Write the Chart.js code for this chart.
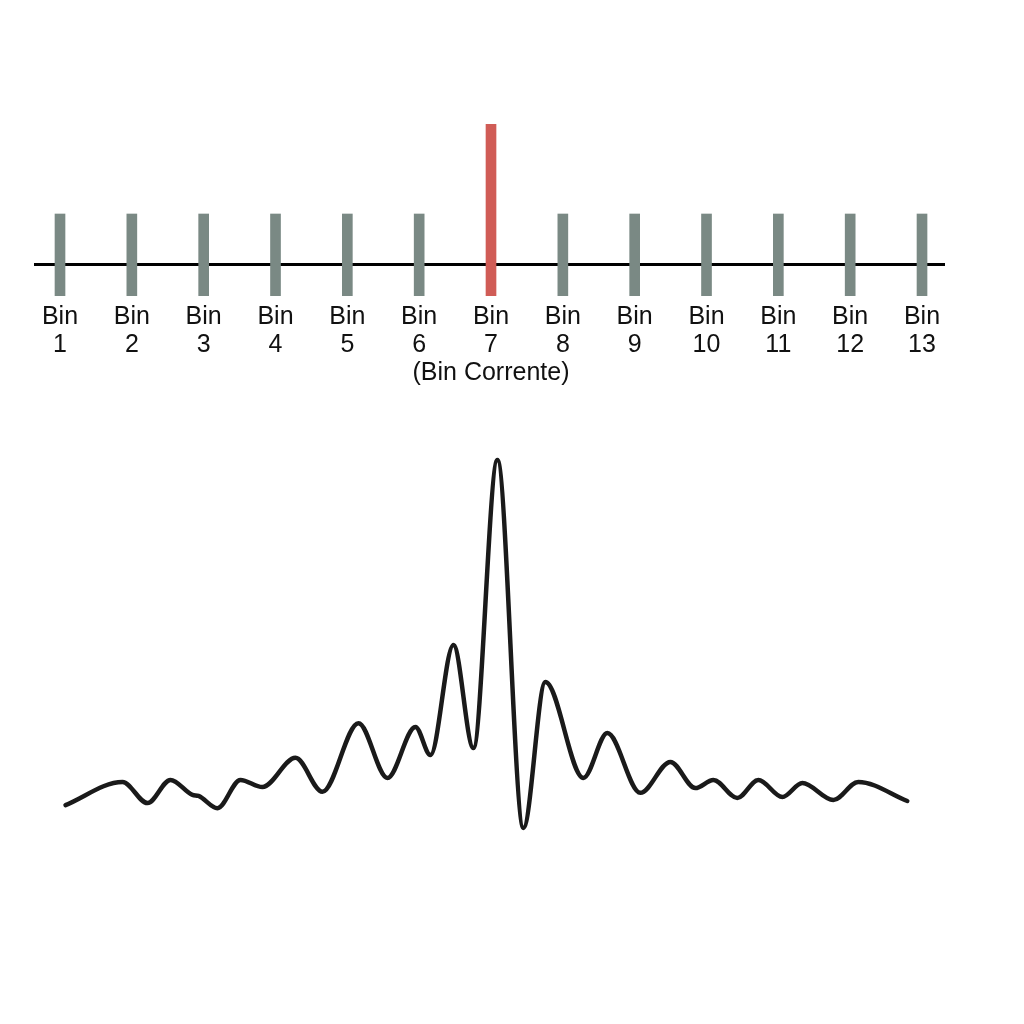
<!DOCTYPE html>
<html>
<head>
<meta charset="utf-8">
<script src="https://cdn.jsdelivr.net/npm/chart.js@4.4.1/dist/chart.umd.min.js"></script>
<style>
  html, body { margin: 0; padding: 0; background: #ffffff; }
  #wrap { position: relative; width: 1024px; height: 1024px; background: #fff; }
  #top { position: absolute; left: 0; top: 0; }
  #bottom { position: absolute; left: 0; top: 400px; }
</style>
</head>
<body>
<div id="wrap">
  <canvas id="top" width="1024" height="400"></canvas>
  <canvas id="bottom" width="1024" height="624"></canvas>
</div>
<script>
// ---- Data ----
const BINS = [1, 2, 3, 4, 5, 6, 7, 8, 9, 10, 11, 12, 13];
const BIN_LABELS = [
  ["Bin", "1"], ["Bin", "2"], ["Bin", "3"], ["Bin", "4"], ["Bin", "5"], ["Bin", "6"],
  ["Bin", "7", "(Bin Corrente)"],
  ["Bin", "8"], ["Bin", "9"], ["Bin", "10"], ["Bin", "11"], ["Bin", "12"], ["Bin", "13"]
];
const CURRENT_BIN = 7;
const BAR_TOP = [50, 50, 50, 50, 50, 50, 140, 50, 50, 50, 50, 50, 50];
const BAR_BOTTOM = [-32, -32, -32, -32, -32, -32, -32, -32, -32, -32, -32, -32, -32];

// Spectrum-like response curve (x in bin units, y relative amplitude)
const CURVE_X = [1.077, 1.870, 2.218, 2.538, 2.844, 2.928, 3.192, 3.512, 3.818, 4.278,
  4.653, 5.155, 5.558, 5.948, 6.157, 6.477, 6.755, 7.089, 7.451, 7.757,
  8.286, 8.620, 9.079, 9.497, 9.845, 10.095, 10.429, 10.722, 11.056, 11.334,
  11.765, 12.113, 12.795];
const CURVE_Y = [-0.015, 0.053, -0.009, 0.059, 0.015, 0.012, -0.024, 0.059, 0.038, 0.124,
  0.024, 0.226, 0.065, 0.215, 0.132, 0.456, 0.153, 1.0, -0.082, 0.347,
  0.065, 0.197, 0.021, 0.112, 0.035, 0.059, 0.006, 0.059, 0.009, 0.050,
  0.000, 0.053, -0.003];

const X_MIN = 0.638, X_MAX = 13.32;
const GREY = '#7a8984';
const RED = '#d05c56';
const FONT = "'Liberation Sans', Arial, sans-serif";

// ---- Top chart: bins ----
new Chart(document.getElementById('top'), {
  type: 'bar',
  data: {
    datasets: [{
      data: BINS.map((b, i) => ({ x: b, y: [BAR_BOTTOM[i], BAR_TOP[i]] })),
      backgroundColor: BINS.map(b => b === CURRENT_BIN ? RED : GREY),
      borderWidth: 0,
      barThickness: 10
    }]
  },
  options: {
    responsive: false,
    animation: false,
    layout: { padding: { left: 34, right: 79, top: 124, bottom: 0 } },
    plugins: { legend: { display: false }, tooltip: { enabled: false } },
    scales: {
      x: {
        type: 'linear',
        offset: false,
        min: X_MIN,
        max: X_MAX,
        afterBuildTicks: s => { s.ticks = BINS.map(v => ({ value: v })); },
        afterFit: s => { s.height = 104; },
        grid: { display: false, drawTicks: false, offset: false },
        border: { display: false },
        ticks: {
          padding: 7,
          maxRotation: 0,
          autoSkip: false,
          color: '#111111',
          font: { family: FONT, size: 25, lineHeight: 1.12 },
          callback: (v) => { const i = BINS.indexOf(v); return i >= 0 ? BIN_LABELS[i] : ''; }
        }
      },
      y: {
        min: -32,
        max: 140,
        afterBuildTicks: s => { s.ticks = [{ value: 0 }]; },
        grid: {
          drawTicks: false,
          color: '#000000',
          lineWidth: 3,
          z: -1
        },
        border: { display: false },
        ticks: { display: false }
      }
    }
  }
});

// ---- Bottom chart: response curve ----
new Chart(document.getElementById('bottom'), {
  type: 'line',
  data: {
    datasets: [{
      data: CURVE_X.map((x, i) => ({ x: x, y: CURVE_Y[i] })),
      borderColor: '#1a1a1a',
      borderWidth: 4.5,
      pointRadius: 0,
      fill: false,
      cubicInterpolationMode: 'monotone',
      borderCapStyle: 'round',
      borderJoinStyle: 'round'
    }]
  },
  options: {
    responsive: false,
    animation: false,
    layout: { padding: { left: 34, right: 79, top: 26, bottom: 156 } },
    plugins: { legend: { display: false }, tooltip: { enabled: false } },
    scales: {
      x: { type: 'linear', min: X_MIN, max: X_MAX, display: false },
      y: { min: -0.2, max: 1.1, display: false }
    }
  }
});
</script>
</body>
</html>
